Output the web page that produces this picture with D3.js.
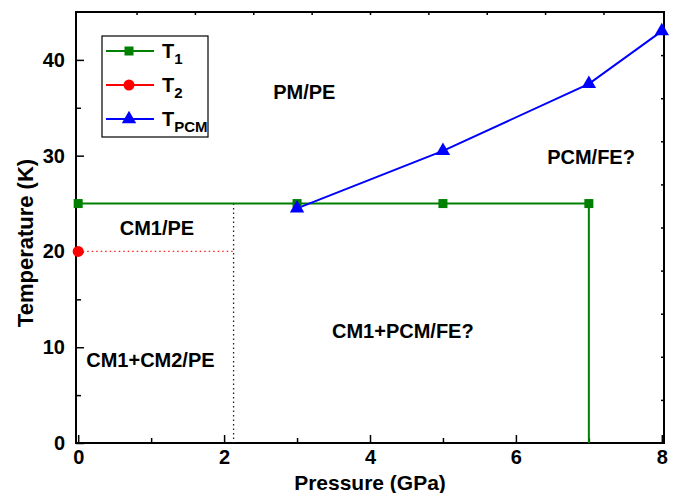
<!DOCTYPE html>
<html>
<head>
<meta charset="utf-8">
<script src="https://cdn.jsdelivr.net/npm/d3@7"></script>
<style>
  body { margin: 0; background: #fff; }
  text { font-family: "Liberation Sans", Arial, sans-serif; font-weight: bold; }
</style>
</head>
<body>
<div id="chart"></div>
<script>
// data
var t1P = [0, 3, 5, 7];
var t1T = [25, 25, 25, 25];
var t2P = [0];
var t2T = [20];
var pcmP = [3, 5, 7, 8];
var pcmT = [24.5, 30.5, 37.5, 43];
var t1DropP = 7;            // T1 line drops straight to 0 K here
var boundaryP = 2.13;       // dotted black boundary
var xTicks = [0, 2, 4, 6, 8];
var yTicks = [0, 10, 20, 30, 40];
var regionNames = ["PM/PE", "PCM/FE?", "CM1/PE", "CM1+PCM/FE?", "CM1+CM2/PE"];
var regionP = [3.1, 7.03, 1.08, 4.45, 0.99];
var regionT = [35.9, 29.1, 21.7, 11.0, 7.9];

var svgWidth = 678, svgHeight = 493;
var svg = d3.select("#chart").append("svg")
    .attr("width", svgWidth)
    .attr("height", svgHeight);

var x = d3.scaleLinear().domain([-0.03, 8.03]).range([76, 664]);
var y = d3.scaleLinear().domain([0, 45]).range([443, 12]);

// axes, ticks pointing in
svg.append("g").attr("transform", "translate(0,443)")
    .call(d3.axisBottom(x).tickValues(xTicks).tickSizeInner(-8).tickSizeOuter(0).tickPadding(7));
svg.append("g").attr("transform", "translate(0,443)")
    .call(d3.axisBottom(x).tickValues([1, 3, 5, 7]).tickSize(-5).tickFormat(""));
svg.append("g").attr("transform", "translate(76,0)")
    .call(d3.axisLeft(y).tickValues(yTicks).tickSizeInner(-8).tickSizeOuter(0).tickPadding(11));
svg.append("g").attr("transform", "translate(76,0)")
    .call(d3.axisLeft(y).tickValues([5, 15, 25, 35]).tickSize(-5).tickFormat(""));
svg.append("g").attr("transform", "translate(0,12)")
    .call(d3.axisTop(x).tickValues(d3.range(1, 10).map(d => d * 0.8)).tickSize(-3).tickFormat(""));
svg.append("g").attr("transform", "translate(664,0)")
    .call(d3.axisRight(y).tickValues(d3.range(1, 10).map(d => d * 4.5)).tickSize(-3).tickFormat(""));

svg.selectAll(".domain").remove();
svg.selectAll(".tick line").attr("stroke", "#000").attr("stroke-width", 1.5);
svg.selectAll(".tick text").attr("font-size", 20).attr("fill", "#000")
    .style("font-family", "'Liberation Sans', Arial, sans-serif").style("font-weight", "bold");

svg.append("rect")
    .attr("x", 76).attr("y", 12).attr("width", 588).attr("height", 431)
    .attr("fill", "none").attr("stroke", "#000").attr("stroke-width", 2);

// dotted boundaries
svg.append("line")
    .attr("x1", x(boundaryP)).attr("x2", x(boundaryP))
    .attr("y1", y(t1T[0])).attr("y2", y(0))
    .attr("stroke", "#222").attr("stroke-width", 1.3).attr("stroke-dasharray", "1.5,3");
svg.append("line")
    .attr("x1", x(t2P[0])).attr("x2", x(boundaryP))
    .attr("y1", y(t2T[0])).attr("y2", y(t2T[0]))
    .attr("stroke", "#ff2020").attr("stroke-width", 1.3).attr("stroke-dasharray", "1.5,3");

// T1
var line = d3.line().x(d => x(d[0])).y(d => y(d[1]));
var t1Pts = t1P.map((p, i) => [p, t1T[i]]);
svg.append("path")
    .attr("d", line(t1Pts.concat([[t1DropP, 0]])))
    .attr("fill", "none").attr("stroke", "#008000").attr("stroke-width", 2);

// T_PCM
var pcmPts = pcmP.map((p, i) => [p, pcmT[i]]);
svg.append("path")
    .attr("d", line(pcmPts))
    .attr("fill", "none").attr("stroke", "#0000ff").attr("stroke-width", 2);

svg.selectAll(".sq").data(t1Pts).enter().append("rect")
    .attr("x", d => x(d[0]) - 4.5).attr("y", d => y(d[1]) - 4.5)
    .attr("width", 9).attr("height", 9).attr("fill", "#008000");

var tri = d3.symbol().type(d3.symbolTriangle).size(90);
svg.selectAll(".tri").data(pcmPts).enter().append("path")
    .attr("d", tri)
    .attr("transform", d => `translate(${x(d[0])},${y(d[1])})`)
    .attr("fill", "#0000ff");

svg.selectAll(".dot").data(t2P).enter().append("circle")
    .attr("cx", d => x(d)).attr("cy", (d, i) => y(t2T[i]))
    .attr("r", 5.5).attr("fill", "#ff0000");

// region labels
svg.selectAll(".region").data(regionNames).enter().append("text")
    .attr("x", (d, i) => x(regionP[i]))
    .attr("y", (d, i) => y(regionT[i]))
    .attr("text-anchor", "middle")
    .attr("font-size", 20)
    .text(d => d);

// axis titles
svg.append("text")
    .attr("x", 370).attr("y", 490)
    .attr("text-anchor", "middle").attr("font-size", 21)
    .text("Pressure (GPa)");
svg.append("text")
    .attr("transform", "translate(33,243) rotate(-90)")
    .attr("text-anchor", "middle").attr("font-size", 22)
    .text("Temperature (K)");

// legend
var legend = svg.append("g");
legend.append("rect")
    .attr("x", 102).attr("y", 36).attr("width", 106).attr("height", 101)
    .attr("fill", "#fff").attr("stroke", "#000").attr("stroke-width", 1.2);
var legendNames = ["T", "T", "T"];
var legendSubs = ["1", "2", "PCM"];
var legendColors = ["#008000", "#ff0000", "#0000ff"];
var legendY = [51, 85, 119];
legendNames.forEach(function(n, i) {
    legend.append("line")
        .attr("x1", 106).attr("x2", 154).attr("y1", legendY[i]).attr("y2", legendY[i])
        .attr("stroke", legendColors[i]).attr("stroke-width", 2);
    var t = legend.append("text")
        .attr("x", 162).attr("y", legendY[i] + 7)
        .attr("font-size", 20);
    t.append("tspan").text(n);
    t.append("tspan").attr("dy", 6).attr("font-size", 15).text(legendSubs[i]);
});
legend.append("rect").attr("x", 124.5).attr("y", 46.5).attr("width", 9).attr("height", 9).attr("fill", "#008000");
legend.append("circle").attr("cx", 129).attr("cy", 85).attr("r", 5.5).attr("fill", "#ff0000");
legend.append("path").attr("d", tri).attr("transform", "translate(129,119)").attr("fill", "#0000ff");
</script>
</body>
</html>
